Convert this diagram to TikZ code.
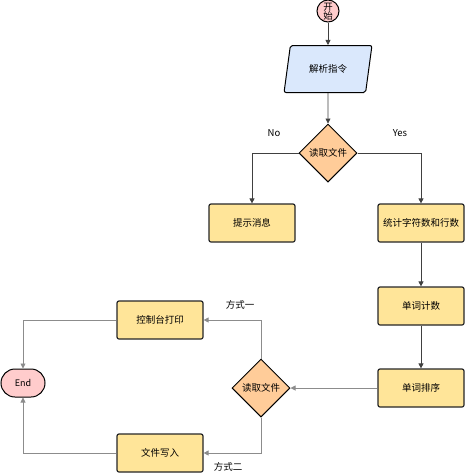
\documentclass[tikz,border=0pt]{standalone}
\usepackage{fontspec}
\setmainfont{Noto Sans CJK SC}
\usetikzlibrary{shapes.geometric,shapes.misc,arrows.meta}
\begin{document}
\begin{tikzpicture}[x=1pt,y=-1pt,
  font=\fontsize{9.5}{11}\selectfont,
  boxst/.style={draw=black!85,line width=1.2pt,rounded corners=2pt,fill=boxfill,minimum width=86pt,minimum height=38pt,inner sep=0pt},
  decst/.style={diamond,draw=black,line width=1pt,fill=decfill,minimum width=58pt,minimum height=58pt,inner sep=0pt,aspect=1},
  arr/.style={draw=black!75,line width=0.8pt,-{Triangle[length=5pt,width=5pt]}},
  garr/.style={draw=black!45,line width=0.9pt,-{Triangle[length=5pt,width=5pt]}}]
\definecolor{boxfill}{HTML}{FFE599}
\definecolor{decfill}{HTML}{FFCC99}
\definecolor{pfill}{HTML}{DAE8FC}
\definecolor{endfill}{HTML}{FFCCCC}
\useasboundingbox (0,0) rectangle (469,475);
\node[circle,draw=black,line width=1pt,fill=endfill,minimum size=22pt,inner sep=0pt] (start) at (328,11) {};
\node[align=center,font=\fontsize{9.5}{9}\selectfont] (starttxt) at (328,12) {开\\始};
\node[trapezium,trapezium left angle=70,trapezium right angle=110,draw=black,line width=1pt,fill=pfill,minimum width=88pt,minimum height=47pt,trapezium stretches=true,rounded corners=2pt,inner sep=0pt] (parse) at (328,69) {解析指令};
\node[decst] (d1) at (328,153) {读取文件};
\node[boxst] (hint) at (252,223) {提示消息};
\node[boxst] (stat) at (421,223) {统计字符数和行数};
\node[boxst] (count) at (421,306) {单词计数};
\node[boxst] (sort) at (421,388) {单词排序};
\node[decst] (d2) at (261,388) {读取文件};
\node[boxst] (print) at (160,320) {控制台打印};
\node[boxst] (write) at (160,453) {文件写入};
\node[draw=black,line width=1pt,fill=endfill,rounded rectangle,minimum width=44pt,minimum height=28pt,inner sep=0pt,font=\fontsize{9}{10}\selectfont] (end) at (23,383) {End};
\node (no) at (274,133) {No};
\node (yes) at (400,133) {Yes};
\node (m1) at (240,305) {方式一};
\node (m2) at (228,467) {方式二};
\draw[arr] (start) -- (parse);
\draw[arr] (parse) -- (d1);
\draw[arr] (d1.west) -| (hint.north);
\draw[arr] (d1.east) -| (stat.north);
\draw[arr] (stat) -- (count);
\draw[arr] (count) -- (sort);
\draw[garr] (sort.west) -- (d2.east);
\draw[garr] (d2.north) |- (print.east);
\draw[garr] (d2.south) |- (write.east);
\draw[garr] (print.west) -| (end.north);
\draw[garr] (write.west) -| (end.south);
\end{tikzpicture}
\end{document}
